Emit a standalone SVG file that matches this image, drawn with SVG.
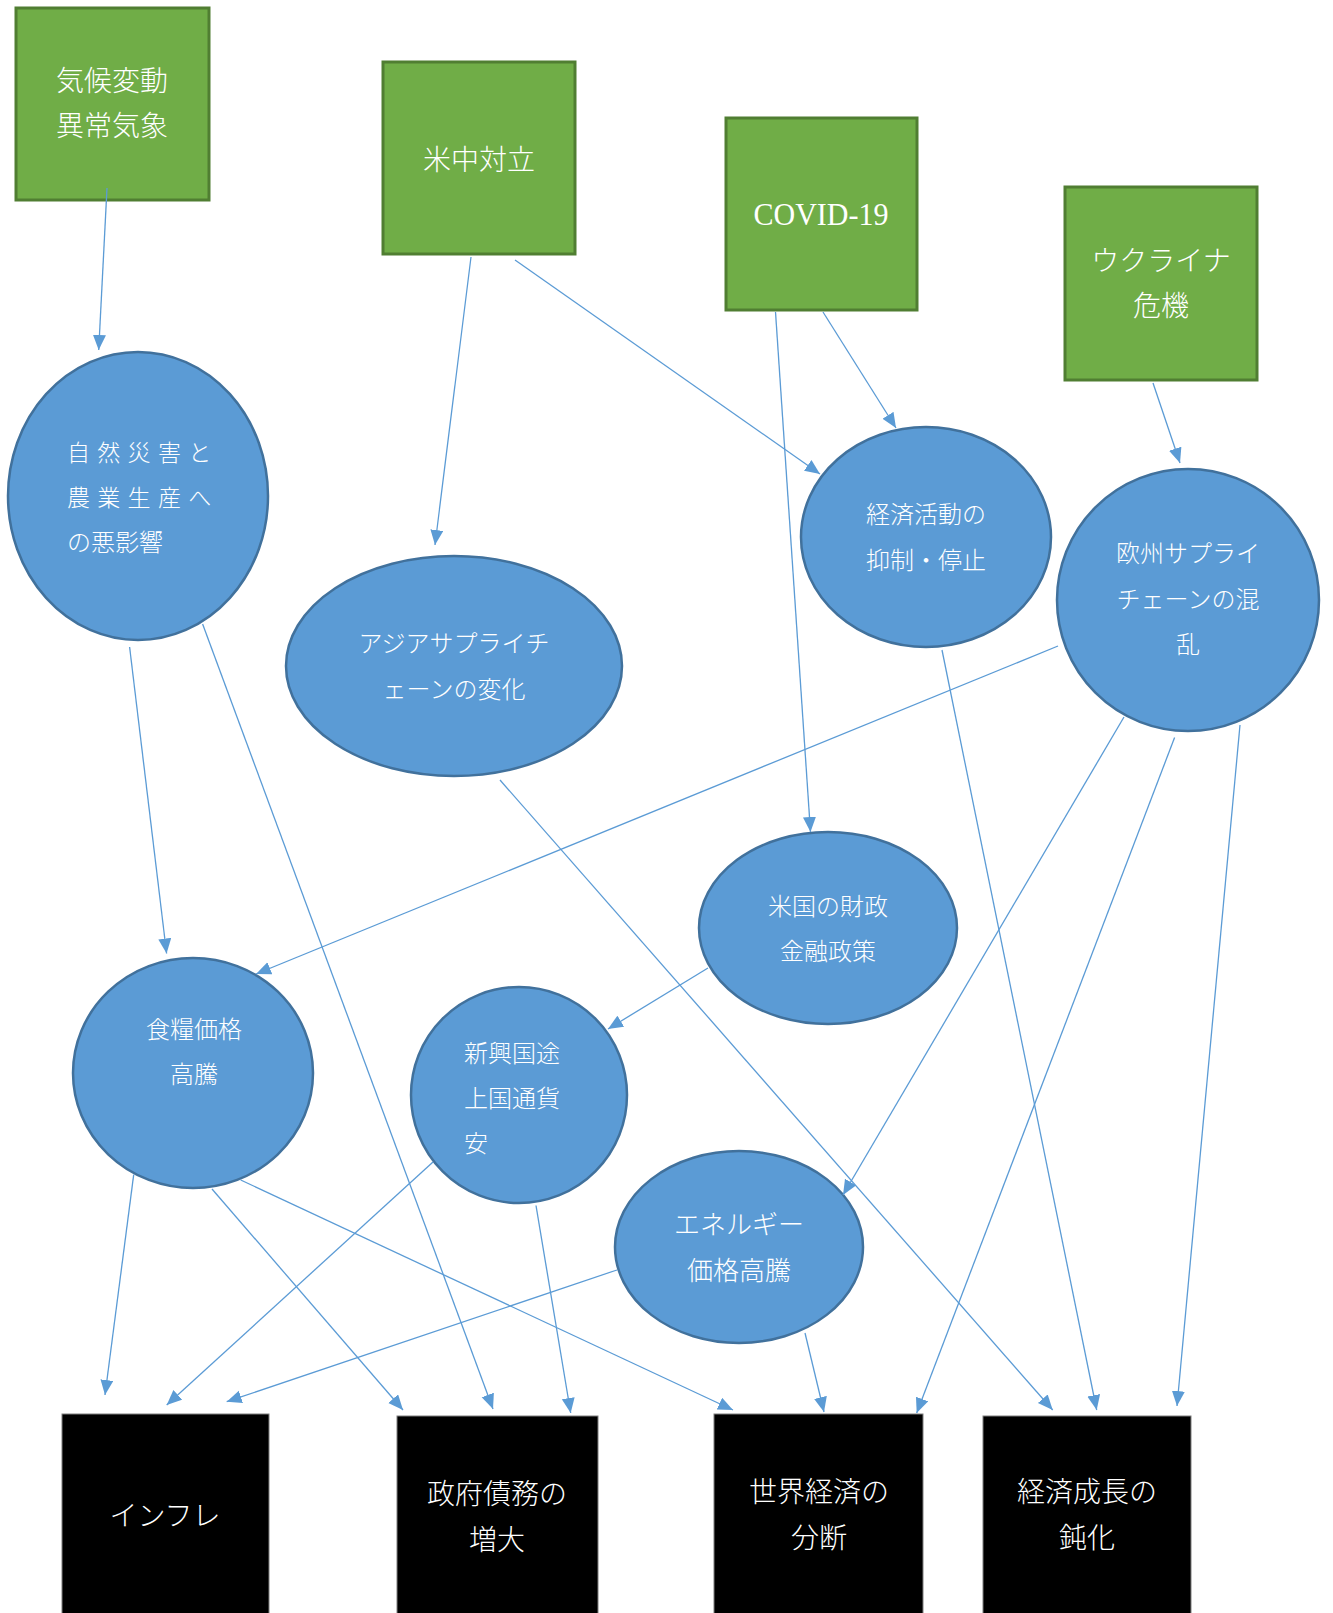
<svg xmlns="http://www.w3.org/2000/svg" width="1333" height="1613" viewBox="0 0 1333 1613">
<defs>
<style>
.src{fill:#70AD47;stroke:#507E32;stroke-width:3}
.mid{fill:#5B9BD5;stroke:#41719C;stroke-width:2.5}
.out{fill:#000;stroke:#7f7f7f;stroke-width:1}
text{fill:#fff;font-family:"Noto Sans CJK JP","Liberation Serif",sans-serif;font-weight:300;dominant-baseline:central}
.c{text-anchor:middle}
.g{font-size:28px}
.e{font-size:24px}
.b{font-size:28px}
.lat{font-family:"Liberation Serif","Noto Sans CJK JP",serif;font-weight:400}
#edges line{stroke:#5B9BD5;stroke-width:1.3;fill:none;marker-end:url(#ah)}
</style>
<marker id="ah" markerUnits="userSpaceOnUse" markerWidth="16" markerHeight="14" refX="15" refY="6.5" orient="auto">
<path d="M0,0 L15,6.5 L0,13 z" fill="#5B9BD5"/>
</marker>
</defs>
<rect width="1333" height="1613" fill="#fff"/>

<g id="n-climate"><rect class="src" x="16" y="8" width="193" height="192"/><text class="g c" x="112" y="78.5">気候変動</text><text class="g c" x="112" y="123.5">異常気象</text></g>
<g id="n-uschina"><rect class="src" x="383" y="62" width="192" height="192"/><text class="g c" x="479" y="157.5">米中対立</text></g>
<g id="n-covid"><rect class="src" x="726" y="118" width="191" height="192"/><text class="lat c" x="821" y="214" font-size="32" textLength="135" lengthAdjust="spacingAndGlyphs">COVID-19</text></g>
<g id="n-ukraine"><rect class="src" x="1065" y="187" width="192" height="193"/><text class="g c" x="1161" y="258.5">ウクライナ</text><text class="g c" x="1161" y="303.5">危機</text></g>

<g id="n-disaster"><ellipse class="mid" cx="138" cy="496" rx="130" ry="144"/><text class="e" x="67" y="450.5" style="font-size:23px" letter-spacing="7.3">自然災害と</text><text class="e" x="67" y="495.5" style="font-size:23px" letter-spacing="7.3">農業生産へ</text><text class="e" x="67" y="540.5">の悪影響</text></g>
<g id="n-asia"><ellipse class="mid" cx="454" cy="666" rx="168" ry="110"/><text class="e c" x="454" y="641.5">アジアサプライチ</text><text class="e c" x="454" y="687.5">ェーンの変化</text></g>
<g id="n-econact"><ellipse class="mid" cx="926" cy="537" rx="125" ry="110"/><text class="e c" x="926" y="512.5">経済活動の</text><text class="e c" x="926" y="558.5">抑制・停止</text></g>
<g id="n-europe"><ellipse class="mid" cx="1188" cy="600" rx="131" ry="131"/><text class="e c" x="1188" y="551.5">欧州サプライ</text><text class="e c" x="1188" y="597.5">チェーンの混</text><text class="e c" x="1188" y="642.5">乱</text></g>
<g id="n-uspolicy"><ellipse class="mid" cx="828" cy="928" rx="129" ry="96"/><text class="e c" x="828" y="904.5">米国の財政</text><text class="e c" x="828" y="949.5">金融政策</text></g>
<g id="n-food"><ellipse class="mid" cx="193" cy="1073" rx="120" ry="115"/><text class="e c" x="194" y="1027.5">食糧価格</text><text class="e c" x="194" y="1072.5">高騰</text></g>
<g id="n-emerging"><ellipse class="mid" cx="519" cy="1095" rx="108" ry="108"/><text class="e" x="464" y="1051.5">新興国途</text><text class="e" x="464" y="1096.5">上国通貨</text><text class="e" x="464" y="1141.5">安</text></g>
<g id="n-energy"><ellipse class="mid" cx="739" cy="1247" rx="124" ry="96"/><text class="c" x="739" y="1222.5" style="font-size:26px">エネルギー</text><text class="c" x="739" y="1268.5" style="font-size:26px">価格高騰</text></g>

<g id="n-inflation"><rect class="out" x="62" y="1414" width="207" height="205"/><text class="b c" x="165" y="1513.5">インフレ</text></g>
<g id="n-debt"><rect class="out" x="397" y="1416" width="201" height="205"/><text class="b c" x="497" y="1491.5">政府債務の</text><text class="b c" x="497" y="1537.5">増大</text></g>
<g id="n-split"><rect class="out" x="714" y="1414" width="209" height="205"/><text class="b c" x="819" y="1489.5">世界経済の</text><text class="b c" x="819" y="1535.5">分断</text></g>
<g id="n-growth"><rect class="out" x="983" y="1416" width="208" height="205"/><text class="b c" x="1087" y="1489.5">経済成長の</text><text class="b c" x="1087" y="1535.5">鈍化</text></g>

<g id="edges">
<line x1="107" y1="188" x2="98.7" y2="350"/>
<line x1="471" y1="257" x2="435" y2="545"/>
<line x1="515" y1="260" x2="820" y2="474"/>
<line x1="823" y1="312" x2="896" y2="428"/>
<line x1="775.5" y1="312" x2="810.5" y2="832"/>
<line x1="1153" y1="383" x2="1180" y2="463"/>
<line x1="129.6" y1="647" x2="166.6" y2="953.5"/>
<line x1="202.6" y1="624" x2="493" y2="1409"/>
<line x1="500" y1="780" x2="1052.7" y2="1410"/>
<line x1="942" y1="650" x2="1096.7" y2="1410"/>
<line x1="1058" y1="646" x2="256" y2="974"/>
<line x1="1124" y1="717" x2="843" y2="1195"/>
<line x1="1174.6" y1="737.5" x2="916.7" y2="1413"/>
<line x1="1240" y1="725" x2="1177" y2="1406"/>
<line x1="708" y1="968" x2="608" y2="1029"/>
<line x1="133.7" y1="1174.6" x2="105" y2="1395"/>
<line x1="212" y1="1189" x2="403" y2="1410"/>
<line x1="240.7" y1="1180" x2="733" y2="1410"/>
<line x1="433" y1="1162" x2="166.7" y2="1405"/>
<line x1="536" y1="1205.5" x2="570.7" y2="1413"/>
<line x1="617" y1="1270" x2="226.7" y2="1401.7"/>
<line x1="805" y1="1333" x2="824" y2="1412"/>
</g>
</svg>
